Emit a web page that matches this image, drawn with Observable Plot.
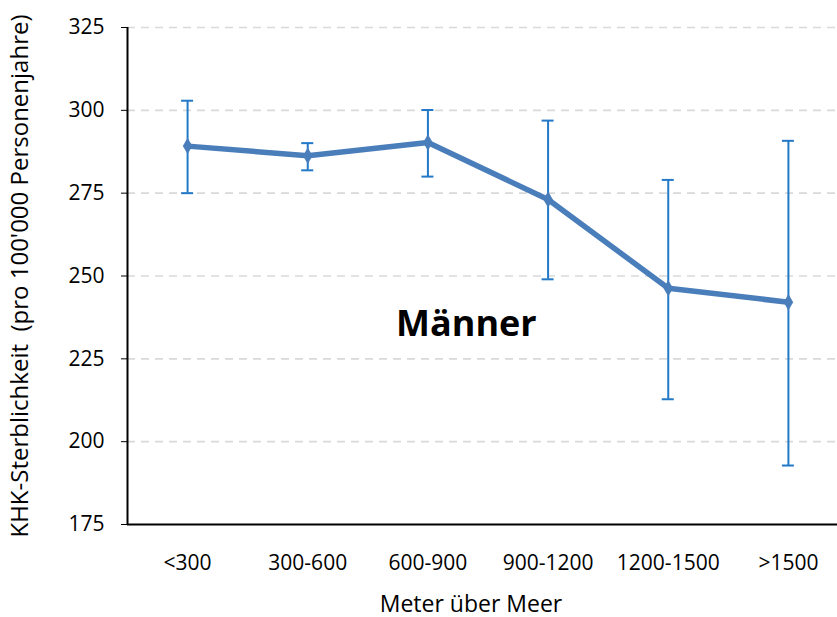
<!DOCTYPE html>
<html>
<head>
<meta charset="utf-8">
<script src="https://cdn.jsdelivr.net/npm/d3@7"></script>
<script src="https://cdn.jsdelivr.net/npm/@observablehq/plot@0.6"></script>
<style>
  html, body { margin: 0; padding: 0; background: #fff; }
</style>
</head>
<body>
<div id="chart"></div>
<script>
const categories = ["<300", "300-600", "600-900", "900-1200", "1200-1500", ">1500"];
const values = [289.2, 286.3, 290.3, 273.1, 246.3, 242.1];
const lower  = [275.0, 281.9, 280.0, 249.0, 212.8, 192.8];
const upper  = [302.9, 290.1, 300.1, 296.9, 279.0, 290.8];
const yTicks = [175, 200, 225, 250, 275, 300, 325];
const gridTicks = [200, 225, 250, 275, 300, 325];
const yLabel = "KHK-Sterblichkeit  (pro 100'000 Personenjahre)";
const xLabel = "Meter über Meer";
const annotation = "Männer";
const annotationPos = {x: 2.32, y: 232};

const data = categories.map((c, i) => ({i, c, v: values[i], lo: lower[i], hi: upper[i]}));
const capHalf = 0.05;

const lineColor = "#4a7ebb";
const barColor = "#2379c7";

const chart = Plot.plot({
  width: 837,
  height: 617,
  marginLeft: 127,
  marginRight: -11,
  marginTop: 27,
  marginBottom: 93,
  style: {fontFamily: "'Open Sans', sans-serif", fontSize: "21px", color: "#000", background: "#fff"},
  x: {
    domain: [-0.5, 5.5],
    ticks: d3.range(categories.length),
    tickFormat: i => categories[i],
    tickSize: 0,
    tickPadding: 31,
    label: null
  },
  y: {
    domain: [175, 325],
    ticks: yTicks,
    tickSize: 6,
    tickPadding: 17,
    label: null
  },
  marks: [
    Plot.ruleY(gridTicks, {stroke: "#d9d9d9", strokeWidth: 1.6, strokeDasharray: "8,6"}),
    Plot.ruleX(data, {x: "i", y1: "lo", y2: "hi", stroke: barColor, strokeWidth: 2}),
    Plot.ruleY(data, {y: "hi", x1: d => d.i - capHalf, x2: d => d.i + capHalf, stroke: barColor, strokeWidth: 2}),
    Plot.ruleY(data, {y: "lo", x1: d => d.i - capHalf, x2: d => d.i + capHalf, stroke: barColor, strokeWidth: 2}),
    Plot.lineY(data, {x: "i", y: "v", stroke: lineColor, strokeWidth: 5.5, strokeLinejoin: "round"}),
    Plot.dot(data, {x: "i", y: "v", symbol: "diamond", r: 5, fill: lineColor, stroke: "none"}),
    Plot.ruleY([175], {stroke: "#000", strokeWidth: 2}),
    Plot.ruleX([-0.5], {y1: 175, y2: 325, stroke: "#000", strokeWidth: 2}),
    Plot.text([annotation], {x: annotationPos.x, y: annotationPos.y, text: d => d, fontSize: 36, fontWeight: "bold", lineAnchor: "bottom", fill: "#000"}),
    Plot.text([yLabel], {text: d => d, frameAnchor: "left", rotate: -90, dx: -107, fontSize: 24, fill: "#000", textAnchor: "middle"}),
    Plot.text([xLabel], {text: d => d, frameAnchor: "bottom", dx: -17, dy: 87, fontSize: 23, fill: "#000"})
  ]
});
document.getElementById("chart").appendChild(chart);
</script>
</body>
</html>
